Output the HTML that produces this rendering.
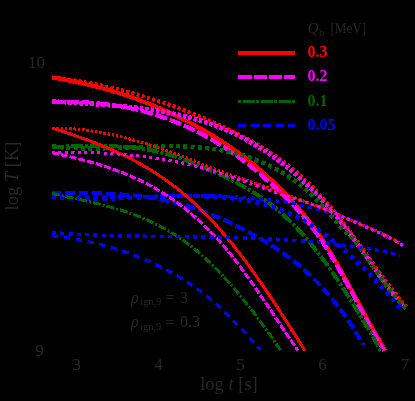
<!DOCTYPE html>
<html><head><meta charset="utf-8"><style>
html,body{margin:0;padding:0;background:#000;width:415px;height:401px;overflow:hidden}
svg{position:absolute;left:0;top:0;will-change:transform}
text{font-family:"Liberation Serif",serif;fill:#2b2727}
</style></head><body>
<svg width="415" height="401" viewBox="0 0 415 401">
<rect width="415" height="401" fill="#000"/>
<g fill="none" stroke-linecap="butt" stroke-linejoin="round" shape-rendering="crispEdges">
<path d="M52.0 77.5 L54.0 77.8 L56.0 78.2 L58.0 78.5 L60.0 78.9 L62.0 79.2 L64.0 79.6 L66.0 80.0 L68.0 80.4 L70.0 80.8 L72.0 81.2 L74.0 81.6 L76.0 82.0 L78.0 82.4 L80.0 82.8 L82.0 83.3 L84.0 83.7 L86.0 84.2 L88.0 84.7 L90.0 85.2 L92.0 85.6 L94.0 86.1 L96.0 86.6 L98.0 87.2 L100.0 87.7 L102.0 88.2 L104.0 88.8 L106.0 89.3 L108.0 89.9 L110.0 90.5 L112.0 91.0 L114.0 91.6 L116.0 92.2 L118.0 92.9 L120.0 93.5 L122.0 94.1 L124.0 94.8 L126.0 95.4 L128.0 96.1 L130.0 96.8 L132.0 97.5 L134.0 98.2 L136.0 98.9 L138.0 99.6 L140.0 100.3 L142.0 101.1 L144.0 101.9 L146.0 102.6 L148.0 103.4 L150.0 104.2 L152.0 105.0 L154.0 105.8 L156.0 106.7 L158.0 107.5 L160.0 108.4 L162.0 109.2 L164.0 110.1 L166.0 111.0 L168.0 111.9 L170.0 112.8 L172.0 113.8 L174.0 114.7 L176.0 115.7 L178.0 116.6 L180.0 117.6 L182.0 118.6 L184.0 119.6 L186.0 120.6 L188.0 121.7 L190.0 122.7 L192.0 123.8 L194.0 124.9 L196.0 126.0 L198.0 127.1 L200.0 128.2 L202.0 129.3 L204.0 130.5 L206.0 131.7 L208.0 132.8 L210.0 134.0 L212.0 135.3 L214.0 136.5 L216.0 137.7 L218.0 139.0 L220.0 140.3 L222.0 141.5 L224.0 142.8 L226.0 144.2 L228.0 145.5 L230.0 146.8 L232.0 148.2 L234.0 149.6 L236.0 151.0 L238.0 152.4 L240.0 153.9 L242.0 155.3 L244.0 156.8 L246.0 158.3 L248.0 159.9 L250.0 161.4 L252.0 163.0 L254.0 164.6 L256.0 166.3 L258.0 168.0 L260.0 169.7 L262.0 171.4 L264.0 173.2 L266.0 175.1 L268.0 176.9 L270.0 178.8 L272.0 180.7 L274.0 182.6 L276.0 184.6 L278.0 186.6 L280.0 188.6 L282.0 190.6 L284.0 192.6 L286.0 194.6 L288.0 196.7 L290.0 198.8 L292.0 201.0 L294.0 203.1 L296.0 205.4 L298.0 207.6 L300.0 209.9 L302.0 212.3 L304.0 214.7 L306.0 217.1 L308.0 219.6 L310.0 222.2 L312.0 224.8 L314.0 227.5 L316.0 230.3 L318.0 233.1 L320.0 236.1 L322.0 239.1 L324.0 242.2 L326.0 245.3 L328.0 248.5 L330.0 251.8 L332.0 255.1 L334.0 258.5 L336.0 262.0 L338.0 265.5 L340.0 269.0 L342.0 272.6 L344.0 276.2 L346.0 279.8 L348.0 283.4 L350.0 287.1 L352.0 290.8 L354.0 294.5 L356.0 298.2 L358.0 301.9 L360.0 305.6 L362.0 309.3 L364.0 313.0 L366.0 316.7 L368.0 320.3 L370.0 323.9 L372.0 327.5 L374.0 331.1 L376.0 334.6 L378.0 338.1 L380.0 341.6 L382.0 345.0 L384.0 348.3 L385.5 350.8" stroke="#ff0000" stroke-width="4.0"/>
<path d="M52.0 77.4 L54.0 77.7 L56.0 77.9 L58.0 78.1 L60.0 78.4 L62.0 78.7 L64.0 78.9 L66.0 79.2 L68.0 79.5 L70.0 79.8 L72.0 80.1 L74.0 80.4 L76.0 80.7 L78.0 81.1 L80.0 81.4 L82.0 81.7 L84.0 82.1 L86.0 82.5 L88.0 82.8 L90.0 83.2 L92.0 83.6 L94.0 84.0 L96.0 84.4 L98.0 84.8 L100.0 85.2 L102.0 85.6 L104.0 86.1 L106.0 86.5 L108.0 87.0 L110.0 87.4 L112.0 87.9 L114.0 88.4 L116.0 88.8 L118.0 89.3 L120.0 89.8 L122.0 90.3 L124.0 90.9 L126.0 91.4 L128.0 91.9 L130.0 92.4 L132.0 93.0 L134.0 93.6 L136.0 94.1 L138.0 94.7 L140.0 95.3 L142.0 95.9 L144.0 96.5 L146.0 97.1 L148.0 97.7 L150.0 98.3 L152.0 98.9 L154.0 99.6 L156.0 100.2 L158.0 100.9 L160.0 101.6 L162.0 102.2 L164.0 102.9 L166.0 103.6 L168.0 104.3 L170.0 105.0 L172.0 105.7 L174.0 106.4 L176.0 107.2 L178.0 107.9 L180.0 108.7 L182.0 109.4 L184.0 110.2 L186.0 111.0 L188.0 111.7 L190.0 112.5 L192.0 113.3 L194.0 114.2 L196.0 115.0 L198.0 115.8 L200.0 116.6 L202.0 117.5 L204.0 118.3 L206.0 119.2 L208.0 120.1 L210.0 120.9 L212.0 121.8 L214.0 122.7 L216.0 123.6 L218.0 124.5 L220.0 125.4 L222.0 126.4 L224.0 127.3 L226.0 128.3 L228.0 129.2 L230.0 130.2 L232.0 131.2 L234.0 132.1 L236.0 133.1 L238.0 134.1 L240.0 135.1 L242.0 136.2 L244.0 137.2 L246.0 138.3 L248.0 139.3 L250.0 140.4 L252.0 141.5 L254.0 142.6 L256.0 143.8 L258.0 144.9 L260.0 146.1 L262.0 147.3 L264.0 148.5 L266.0 149.8 L268.0 151.1 L270.0 152.4 L272.0 153.7 L274.0 155.0 L276.0 156.4 L278.0 157.8 L280.0 159.2 L282.0 160.7 L284.0 162.2 L286.0 163.7 L288.0 165.2 L290.0 166.8 L292.0 168.4 L294.0 170.1 L296.0 171.8 L298.0 173.5 L300.0 175.3 L302.0 177.1 L304.0 178.9 L306.0 180.8 L308.0 182.7 L310.0 184.6 L312.0 186.6 L314.0 188.7 L316.0 190.8 L318.0 192.9 L320.0 195.1 L322.0 197.3 L324.0 199.5 L326.0 201.8 L328.0 204.1 L330.0 206.4 L332.0 208.8 L334.0 211.2 L336.0 213.7 L338.0 216.2 L340.0 218.7 L342.0 221.2 L344.0 223.8 L346.0 226.4 L348.0 229.0 L350.0 231.7 L352.0 234.4 L354.0 237.1 L356.0 239.8 L358.0 242.6 L360.0 245.3 L362.0 248.1 L364.0 251.0 L366.0 253.8 L368.0 256.6 L370.0 259.5 L372.0 262.3 L374.0 265.1 L376.0 267.9 L378.0 270.7 L380.0 273.5 L382.0 276.3 L384.0 279.0 L386.0 281.8 L388.0 284.4 L390.0 287.1 L392.0 289.7 L394.0 292.2 L396.0 294.8 L398.0 297.2 L400.0 299.6 L402.0 302.0 L404.0 304.2 L406.0 306.4 L406.5 307.0" stroke="#ff0000" stroke-width="4" stroke-dasharray="3 2.4"/>
<path d="M52.0 101.9 L54.0 101.9 L56.0 101.8 L58.0 101.8 L60.0 101.7 L62.0 101.7 L64.0 101.7 L66.0 101.7 L68.0 101.7 L70.0 101.7 L72.0 101.8 L74.0 101.8 L76.0 101.9 L78.0 101.9 L80.0 102.0 L82.0 102.1 L84.0 102.2 L86.0 102.3 L88.0 102.4 L90.0 102.6 L92.0 102.7 L94.0 102.9 L96.0 103.1 L98.0 103.3 L100.0 103.5 L102.0 103.7 L104.0 103.9 L106.0 104.1 L108.0 104.4 L110.0 104.7 L112.0 105.0 L114.0 105.3 L116.0 105.6 L118.0 105.9 L120.0 106.2 L122.0 106.6 L124.0 107.0 L126.0 107.3 L128.0 107.7 L130.0 108.2 L132.0 108.6 L134.0 109.0 L136.0 109.5 L138.0 110.0 L140.0 110.5 L142.0 111.0 L144.0 111.5 L146.0 112.0 L148.0 112.6 L150.0 113.2 L152.0 113.8 L154.0 114.4 L156.0 115.0 L158.0 115.6 L160.0 116.3 L162.0 117.0 L164.0 117.7 L166.0 118.4 L168.0 119.1 L170.0 119.8 L172.0 120.6 L174.0 121.4 L176.0 122.2 L178.0 123.0 L180.0 123.8 L182.0 124.7 L184.0 125.6 L186.0 126.5 L188.0 127.4 L190.0 128.3 L192.0 129.3 L194.0 130.2 L196.0 131.2 L198.0 132.2 L200.0 133.3 L202.0 134.3 L204.0 135.4 L206.0 136.5 L208.0 137.6 L210.0 138.7 L212.0 139.9 L214.0 141.0 L216.0 142.2 L218.0 143.5 L220.0 144.7 L222.0 145.9 L224.0 147.2 L226.0 148.5 L228.0 149.8 L230.0 151.2 L232.0 152.6 L234.0 154.0 L236.0 155.4 L238.0 156.8 L240.0 158.3 L242.0 159.7 L244.0 161.2 L246.0 162.8 L248.0 164.3 L250.0 165.9 L252.0 167.5 L254.0 169.1 L256.0 170.7 L258.0 172.4 L260.0 174.1 L262.0 175.8 L264.0 177.5 L266.0 179.3 L268.0 181.1 L270.0 182.8 L272.0 184.7 L274.0 186.5 L276.0 188.4 L278.0 190.2 L280.0 192.1 L282.0 194.0 L284.0 196.0 L286.0 197.9 L288.0 199.9 L290.0 201.9 L292.0 204.0 L294.0 206.1 L296.0 208.2 L298.0 210.4 L300.0 212.6 L302.0 214.9 L304.0 217.3 L306.0 219.7 L308.0 222.1 L310.0 224.6 L312.0 227.2 L314.0 229.9 L316.0 232.6 L318.0 235.4 L320.0 238.3 L322.0 241.3 L324.0 244.3 L326.0 247.5 L328.0 250.7 L330.0 253.9 L332.0 257.3 L334.0 260.6 L336.0 264.1 L338.0 267.6 L340.0 271.1 L342.0 274.7 L344.0 278.3 L346.0 281.9 L348.0 285.6 L350.0 289.2 L352.0 292.9 L354.0 296.6 L356.0 300.4 L358.0 304.1 L360.0 307.8 L362.0 311.5 L364.0 315.2 L366.0 318.9 L368.0 322.6 L370.0 326.2 L372.0 329.8 L374.0 333.4 L376.0 337.0 L378.0 340.5 L380.0 343.9 L382.0 347.4 L384.0 350.7" stroke="#ff00ff" stroke-width="4.0" stroke-dasharray="12 3"/>
<path d="M52.0 101.2 L54.0 101.4 L56.0 101.6 L58.0 101.7 L60.0 101.9 L62.0 102.0 L64.0 102.2 L66.0 102.3 L68.0 102.4 L70.0 102.6 L72.0 102.7 L74.0 102.8 L76.0 103.0 L78.0 103.1 L80.0 103.2 L82.0 103.4 L84.0 103.5 L86.0 103.6 L88.0 103.7 L90.0 103.9 L92.0 104.0 L94.0 104.1 L96.0 104.3 L98.0 104.4 L100.0 104.5 L102.0 104.7 L104.0 104.8 L106.0 105.0 L108.0 105.1 L110.0 105.3 L112.0 105.4 L114.0 105.6 L116.0 105.8 L118.0 105.9 L120.0 106.1 L122.0 106.3 L124.0 106.5 L126.0 106.7 L128.0 106.9 L130.0 107.1 L132.0 107.3 L134.0 107.5 L136.0 107.7 L138.0 108.0 L140.0 108.2 L142.0 108.5 L144.0 108.7 L146.0 109.0 L148.0 109.3 L150.0 109.5 L152.0 109.8 L154.0 110.1 L156.0 110.4 L158.0 110.8 L160.0 111.1 L162.0 111.5 L164.0 111.8 L166.0 112.2 L168.0 112.6 L170.0 113.0 L172.0 113.4 L174.0 113.8 L176.0 114.2 L178.0 114.7 L180.0 115.1 L182.0 115.6 L184.0 116.1 L186.0 116.6 L188.0 117.1 L190.0 117.6 L192.0 118.2 L194.0 118.7 L196.0 119.3 L198.0 119.9 L200.0 120.5 L202.0 121.1 L204.0 121.8 L206.0 122.4 L208.0 123.1 L210.0 123.8 L212.0 124.5 L214.0 125.3 L216.0 126.0 L218.0 126.8 L220.0 127.6 L222.0 128.4 L224.0 129.2 L226.0 130.1 L228.0 130.9 L230.0 131.8 L232.0 132.7 L234.0 133.7 L236.0 134.6 L238.0 135.6 L240.0 136.6 L242.0 137.6 L244.0 138.7 L246.0 139.7 L248.0 140.8 L250.0 141.9 L252.0 143.1 L254.0 144.2 L256.0 145.4 L258.0 146.6 L260.0 147.9 L262.0 149.1 L264.0 150.4 L266.0 151.7 L268.0 153.1 L270.0 154.4 L272.0 155.8 L274.0 157.3 L276.0 158.7 L278.0 160.2 L280.0 161.7 L282.0 163.2 L284.0 164.8 L286.0 166.4 L288.0 168.0 L290.0 169.6 L292.0 171.3 L294.0 173.0 L296.0 174.8 L298.0 176.5 L300.0 178.3 L302.0 180.1 L304.0 182.0 L306.0 183.9 L308.0 185.8 L310.0 187.8 L312.0 189.8 L314.0 191.8 L316.0 193.8 L318.0 195.9 L320.0 198.0 L322.0 200.2 L324.0 202.4 L326.0 204.6 L328.0 206.9 L330.0 209.1 L332.0 211.5 L334.0 213.8 L336.0 216.2 L338.0 218.6 L340.0 221.1 L342.0 223.6 L344.0 226.1 L346.0 228.7 L348.0 231.3 L350.0 233.9 L352.0 236.6 L354.0 239.3 L356.0 242.1 L358.0 244.8 L360.0 247.6 L362.0 250.5 L364.0 253.3 L366.0 256.2 L368.0 259.1 L370.0 262.0 L372.0 264.9 L374.0 267.8 L376.0 270.7 L378.0 273.6 L380.0 276.4 L382.0 279.2 L384.0 282.0 L386.0 284.7 L388.0 287.4 L390.0 290.1 L392.0 292.7 L394.0 295.2 L396.0 297.7 L398.0 300.1 L400.0 302.4 L402.0 304.6 L404.0 306.7 L406.0 308.8" stroke="#ff00ff" stroke-width="4.5" stroke-dasharray="3.5 2"/>
<path d="M52.0 146.5 L54.0 146.5 L56.0 146.5 L58.0 146.5 L60.0 146.5 L62.0 146.5 L64.0 146.5 L66.0 146.4 L68.0 146.4 L70.0 146.4 L72.0 146.4 L74.0 146.3 L76.0 146.3 L78.0 146.3 L80.0 146.2 L82.0 146.2 L84.0 146.2 L86.0 146.1 L88.0 146.1 L90.0 146.1 L92.0 146.1 L94.0 146.1 L96.0 146.0 L98.0 146.0 L100.0 146.0 L102.0 146.1 L104.0 146.1 L106.0 146.1 L108.0 146.1 L110.0 146.2 L112.0 146.2 L114.0 146.3 L116.0 146.4 L118.0 146.5 L120.0 146.6 L122.0 146.7 L124.0 146.8 L126.0 146.9 L128.0 147.1 L130.0 147.3 L132.0 147.5 L134.0 147.7 L136.0 147.9 L138.0 148.1 L140.0 148.4 L142.0 148.7 L144.0 149.0 L146.0 149.3 L148.0 149.6 L150.0 150.0 L152.0 150.4 L154.0 150.8 L156.0 151.2 L158.0 151.7 L160.0 152.2 L162.0 152.7 L164.0 153.2 L166.0 153.8 L168.0 154.3 L170.0 154.9 L172.0 155.5 L174.0 156.2 L176.0 156.8 L178.0 157.5 L180.0 158.2 L182.0 158.9 L184.0 159.7 L186.0 160.4 L188.0 161.1 L190.0 161.9 L192.0 162.7 L194.0 163.5 L196.0 164.3 L198.0 165.1 L200.0 165.9 L202.0 166.7 L204.0 167.6 L206.0 168.4 L208.0 169.3 L210.0 170.1 L212.0 171.0 L214.0 171.9 L216.0 172.8 L218.0 173.7 L220.0 174.6 L222.0 175.5 L224.0 176.5 L226.0 177.4 L228.0 178.4 L230.0 179.4 L232.0 180.4 L234.0 181.4 L236.0 182.4 L238.0 183.5 L240.0 184.6 L242.0 185.7 L244.0 186.8 L246.0 187.9 L248.0 189.1 L250.0 190.3 L252.0 191.5 L254.0 192.7 L256.0 194.0 L258.0 195.3 L260.0 196.6 L262.0 198.0 L264.0 199.4 L266.0 200.8 L268.0 202.3 L270.0 203.8 L272.0 205.4 L274.0 206.9 L276.0 208.6 L278.0 210.2 L280.0 211.9 L282.0 213.7 L284.0 215.5 L286.0 217.3 L288.0 219.2 L290.0 221.1 L292.0 223.0 L294.0 225.0 L296.0 227.1 L298.0 229.2 L300.0 231.3 L302.0 233.5 L304.0 235.8 L306.0 238.0 L308.0 240.4 L310.0 242.7 L312.0 245.2 L314.0 247.6 L316.0 250.2 L318.0 252.7 L320.0 255.3 L322.0 258.0 L324.0 260.6 L326.0 263.4 L328.0 266.2 L330.0 269.0 L332.0 271.8 L334.0 274.7 L336.0 277.6 L338.0 280.6 L340.0 283.6 L342.0 286.6 L344.0 289.7 L346.0 292.8 L348.0 295.9 L350.0 299.0 L352.0 302.2 L354.0 305.4 L356.0 308.7 L358.0 311.9 L360.0 315.2 L362.0 318.5 L364.0 321.8 L366.0 325.2 L368.0 328.5 L370.0 331.9 L372.0 335.3 L374.0 338.7 L376.0 342.2 L378.0 345.6 L380.0 349.1 L381.0 350.8" stroke="#006400" stroke-width="4.0" stroke-dasharray="12 2 3 2"/>
<path d="M52.0 146.3 L54.0 146.5 L56.0 146.8 L58.0 147.0 L60.0 147.2 L62.0 147.3 L64.0 147.5 L66.0 147.6 L68.0 147.8 L70.0 147.9 L72.0 148.0 L74.0 148.1 L76.0 148.2 L78.0 148.2 L80.0 148.3 L82.0 148.3 L84.0 148.4 L86.0 148.4 L88.0 148.4 L90.0 148.4 L92.0 148.4 L94.0 148.4 L96.0 148.4 L98.0 148.4 L100.0 148.3 L102.0 148.3 L104.0 148.3 L106.0 148.2 L108.0 148.2 L110.0 148.1 L112.0 148.0 L114.0 148.0 L116.0 147.9 L118.0 147.8 L120.0 147.7 L122.0 147.7 L124.0 147.6 L126.0 147.5 L128.0 147.4 L130.0 147.3 L132.0 147.2 L134.0 147.1 L136.0 147.1 L138.0 147.0 L140.0 146.9 L142.0 146.8 L144.0 146.7 L146.0 146.7 L148.0 146.6 L150.0 146.5 L152.0 146.5 L154.0 146.4 L156.0 146.3 L158.0 146.3 L160.0 146.3 L162.0 146.2 L164.0 146.2 L166.0 146.2 L168.0 146.2 L170.0 146.2 L172.0 146.2 L174.0 146.2 L176.0 146.2 L178.0 146.2 L180.0 146.3 L182.0 146.3 L184.0 146.4 L186.0 146.5 L188.0 146.6 L190.0 146.7 L192.0 146.8 L194.0 146.9 L196.0 147.0 L198.0 147.2 L200.0 147.4 L202.0 147.6 L204.0 147.8 L206.0 148.0 L208.0 148.2 L210.0 148.5 L212.0 148.7 L214.0 149.0 L216.0 149.3 L218.0 149.6 L220.0 150.0 L222.0 150.4 L224.0 150.7 L226.0 151.1 L228.0 151.6 L230.0 152.0 L232.0 152.5 L234.0 153.0 L236.0 153.5 L238.0 154.0 L240.0 154.6 L242.0 155.1 L244.0 155.7 L246.0 156.4 L248.0 157.0 L250.0 157.7 L252.0 158.4 L254.0 159.2 L256.0 159.9 L258.0 160.7 L260.0 161.5 L262.0 162.4 L264.0 163.2 L266.0 164.1 L268.0 165.1 L270.0 166.0 L272.0 167.0 L274.0 168.1 L276.0 169.1 L278.0 170.2 L280.0 171.3 L282.0 172.5 L284.0 173.7 L286.0 174.9 L288.0 176.2 L290.0 177.5 L292.0 178.9 L294.0 180.3 L296.0 181.7 L298.0 183.2 L300.0 184.8 L302.0 186.3 L304.0 188.0 L306.0 189.7 L308.0 191.4 L310.0 193.2 L312.0 195.1 L314.0 197.0 L316.0 198.9 L318.0 201.0 L320.0 203.0 L322.0 205.2 L324.0 207.4 L326.0 209.7 L328.0 212.0 L330.0 214.3 L332.0 216.7 L334.0 219.0 L336.0 221.4 L338.0 223.6 L340.0 225.8 L342.0 228.0 L344.0 230.0 L346.0 231.9 L348.0 233.8 L350.0 235.7 L352.0 237.7 L354.0 239.8 L356.0 242.1 L358.0 244.7 L360.0 247.3 L362.0 250.2 L364.0 253.1 L366.0 256.0 L368.0 259.0 L370.0 261.9 L372.0 264.9 L374.0 267.8 L376.0 270.7 L378.0 273.6 L380.0 276.5 L382.0 279.3 L384.0 282.1 L386.0 284.8 L388.0 287.5 L390.0 290.1 L392.0 292.7 L394.0 295.1 L396.0 297.5 L398.0 299.8 L400.0 302.0 L402.0 304.1 L404.0 306.1 L406.0 308.0" stroke="#006400" stroke-width="4.5" stroke-dasharray="4 3.3"/>
<path d="M52.0 193.3 L54.0 193.3 L56.0 193.3 L58.0 193.3 L60.0 193.2 L62.0 193.2 L64.0 193.2 L66.0 193.2 L68.0 193.2 L70.0 193.1 L72.0 193.1 L74.0 193.1 L76.0 193.1 L78.0 193.1 L80.0 193.1 L82.0 193.1 L84.0 193.1 L86.0 193.1 L88.0 193.2 L90.0 193.2 L92.0 193.2 L94.0 193.2 L96.0 193.3 L98.0 193.3 L100.0 193.4 L102.0 193.4 L104.0 193.5 L106.0 193.6 L108.0 193.7 L110.0 193.7 L112.0 193.8 L114.0 193.9 L116.0 194.1 L118.0 194.2 L120.0 194.3 L122.0 194.5 L124.0 194.6 L126.0 194.8 L128.0 194.9 L130.0 195.1 L132.0 195.3 L134.0 195.5 L136.0 195.7 L138.0 196.0 L140.0 196.2 L142.0 196.5 L144.0 196.7 L146.0 197.0 L148.0 197.3 L150.0 197.6 L152.0 197.9 L154.0 198.2 L156.0 198.6 L158.0 198.9 L160.0 199.3 L162.0 199.7 L164.0 200.1 L166.0 200.5 L168.0 201.0 L170.0 201.4 L172.0 201.9 L174.0 202.4 L176.0 202.9 L178.0 203.4 L180.0 203.9 L182.0 204.5 L184.0 205.1 L186.0 205.7 L188.0 206.3 L190.0 206.9 L192.0 207.5 L194.0 208.2 L196.0 208.9 L198.0 209.5 L200.0 210.3 L202.0 211.0 L204.0 211.7 L206.0 212.5 L208.0 213.2 L210.0 214.0 L212.0 214.8 L214.0 215.6 L216.0 216.5 L218.0 217.3 L220.0 218.2 L222.0 219.1 L224.0 220.0 L226.0 220.9 L228.0 221.8 L230.0 222.7 L232.0 223.7 L234.0 224.6 L236.0 225.6 L238.0 226.6 L240.0 227.6 L242.0 228.6 L244.0 229.7 L246.0 230.7 L248.0 231.8 L250.0 232.9 L252.0 234.0 L254.0 235.1 L256.0 236.2 L258.0 237.3 L260.0 238.4 L262.0 239.6 L264.0 240.8 L266.0 242.0 L268.0 243.2 L270.0 244.4 L272.0 245.7 L274.0 247.0 L276.0 248.3 L278.0 249.6 L280.0 250.9 L282.0 252.3 L284.0 253.7 L286.0 255.2 L288.0 256.6 L290.0 258.1 L292.0 259.6 L294.0 261.2 L296.0 262.8 L298.0 264.4 L300.0 266.1 L302.0 267.8 L304.0 269.6 L306.0 271.3 L308.0 273.2 L310.0 275.0 L312.0 277.0 L314.0 278.9 L316.0 280.9 L318.0 283.0 L320.0 285.1 L322.0 287.2 L324.0 289.4 L326.0 291.7 L328.0 294.0 L330.0 296.3 L332.0 298.8 L334.0 301.2 L336.0 303.7 L338.0 306.3 L340.0 309.0 L342.0 311.7 L344.0 314.4 L346.0 317.3 L348.0 320.2 L350.0 323.1 L352.0 326.1 L354.0 329.2 L356.0 332.4 L358.0 335.6 L360.0 338.9 L362.0 342.3 L363.7 345.2" stroke="#0000ff" stroke-width="4.0" stroke-dasharray="9.5 4"/>
<path d="M52.0 196.9 L54.0 197.1 L56.0 197.3 L58.0 197.5 L60.0 197.6 L62.0 197.8 L64.0 197.9 L66.0 198.0 L68.0 198.1 L70.0 198.2 L72.0 198.3 L74.0 198.4 L76.0 198.5 L78.0 198.5 L80.0 198.6 L82.0 198.6 L84.0 198.7 L86.0 198.7 L88.0 198.7 L90.0 198.7 L92.0 198.7 L94.0 198.7 L96.0 198.7 L98.0 198.7 L100.0 198.7 L102.0 198.6 L104.0 198.6 L106.0 198.6 L108.0 198.5 L110.0 198.5 L112.0 198.4 L114.0 198.3 L116.0 198.3 L118.0 198.2 L120.0 198.1 L122.0 198.1 L124.0 198.0 L126.0 197.9 L128.0 197.8 L130.0 197.8 L132.0 197.7 L134.0 197.6 L136.0 197.5 L138.0 197.4 L140.0 197.4 L142.0 197.3 L144.0 197.2 L146.0 197.1 L148.0 197.0 L150.0 196.9 L152.0 196.9 L154.0 196.8 L156.0 196.7 L158.0 196.6 L160.0 196.6 L162.0 196.5 L164.0 196.4 L166.0 196.4 L168.0 196.3 L170.0 196.3 L172.0 196.2 L174.0 196.2 L176.0 196.1 L178.0 196.1 L180.0 196.1 L182.0 196.0 L184.0 196.0 L186.0 196.0 L188.0 196.0 L190.0 196.0 L192.0 196.0 L194.0 196.0 L196.0 196.1 L198.0 196.1 L200.0 196.1 L202.0 196.2 L204.0 196.3 L206.0 196.3 L208.0 196.4 L210.0 196.5 L212.0 196.6 L214.0 196.7 L216.0 196.8 L218.0 197.0 L220.0 197.1 L222.0 197.3 L224.0 197.4 L226.0 197.6 L228.0 197.8 L230.0 198.0 L232.0 198.2 L234.0 198.5 L236.0 198.7 L238.0 199.0 L240.0 199.3 L242.0 199.5 L244.0 199.9 L246.0 200.2 L248.0 200.5 L250.0 200.9 L252.0 201.3 L254.0 201.7 L256.0 202.1 L258.0 202.6 L260.0 203.1 L262.0 203.6 L264.0 204.1 L266.0 204.6 L268.0 205.2 L270.0 205.8 L272.0 206.4 L274.0 207.1 L276.0 207.8 L278.0 208.5 L280.0 209.2 L282.0 210.0 L284.0 210.8 L286.0 211.7 L288.0 212.5 L290.0 213.4 L292.0 214.4 L294.0 215.3 L296.0 216.3 L298.0 217.4 L300.0 218.5 L302.0 219.6 L304.0 220.7 L306.0 221.9 L308.0 223.1 L310.0 224.3 L312.0 225.6 L314.0 226.9 L316.0 228.2 L318.0 229.6 L320.0 231.0 L322.0 232.4 L324.0 233.8 L326.0 235.3 L328.0 236.8 L330.0 238.4 L332.0 240.0 L334.0 241.6 L336.0 243.2 L338.0 244.9 L340.0 246.6 L342.0 248.3 L344.0 250.0 L346.0 251.8 L348.0 253.6 L350.0 255.4 L352.0 257.2 L354.0 259.1 L356.0 261.0 L358.0 262.9 L360.0 264.8 L362.0 266.8 L364.0 268.8 L366.0 270.8 L368.0 272.8 L370.0 274.8 L372.0 276.9 L374.0 278.9 L376.0 281.0 L378.0 283.1 L380.0 285.2 L382.0 287.4 L384.0 289.5 L386.0 291.7 L388.0 293.8 L390.0 296.0 L392.0 298.2 L394.0 300.4 L396.0 302.7 L398.0 304.9 L400.0 307.1 L402.0 309.4 L403.0 310.5" stroke="#0000ff" stroke-width="4.5" stroke-dasharray="4 4.5"/>
<path d="M52.0 196.4 L54.0 196.5 L56.0 196.6 L58.0 196.7 L60.0 196.7 L62.0 196.8 L64.0 196.9 L66.0 196.9 L68.0 197.0 L70.0 197.0 L72.0 197.1 L74.0 197.1 L76.0 197.2 L78.0 197.2 L80.0 197.2 L82.0 197.2 L84.0 197.3 L86.0 197.3 L88.0 197.3 L90.0 197.3 L92.0 197.3 L94.0 197.3 L96.0 197.3 L98.0 197.3 L100.0 197.3 L102.0 197.2 L104.0 197.2 L106.0 197.2 L108.0 197.2 L110.0 197.2 L112.0 197.1 L114.0 197.1 L116.0 197.1 L118.0 197.0 L120.0 197.0 L122.0 197.0 L124.0 196.9 L126.0 196.9 L128.0 196.8 L130.0 196.8 L132.0 196.7 L134.0 196.7 L136.0 196.7 L138.0 196.6 L140.0 196.6 L142.0 196.5 L144.0 196.5 L146.0 196.4 L148.0 196.4 L150.0 196.3 L152.0 196.3 L154.0 196.3 L156.0 196.2 L158.0 196.2 L160.0 196.1 L162.0 196.1 L164.0 196.1 L166.0 196.0 L168.0 196.0 L170.0 196.0 L172.0 195.9 L174.0 195.9 L176.0 195.9 L178.0 195.8 L180.0 195.8 L182.0 195.8 L184.0 195.8 L186.0 195.8 L188.0 195.8 L190.0 195.8 L192.0 195.8 L194.0 195.8 L196.0 195.8 L198.0 195.8 L200.0 195.8 L202.0 195.8 L204.0 195.9 L206.0 195.9 L208.0 195.9 L210.0 196.0 L212.0 196.0 L214.0 196.0 L216.0 196.1 L218.0 196.2 L220.0 196.2 L222.0 196.3 L224.0 196.4 L226.0 196.4 L228.0 196.5 L230.0 196.6 L232.0 196.7 L234.0 196.8 L236.0 196.9 L238.0 197.1 L240.0 197.2 L242.0 197.3 L244.0 197.5 L246.0 197.6 L248.0 197.8 L250.0 197.9 L252.0 198.1 L254.0 198.3 L256.0 198.5 L258.0 198.7 L260.0 198.9 L262.0 199.1 L264.0 199.3 L266.0 199.6 L268.0 199.8 L270.0 200.1 L272.0 200.3 L274.0 200.6 L276.0 200.9 L278.0 201.2 L280.0 201.5 L282.0 201.8 L284.0 202.1 L286.0 202.4 L288.0 202.7 L290.0 203.1 L292.0 203.5 L294.0 203.8 L296.0 204.2 L298.0 204.6 L300.0 205.0 L302.0 205.4 L304.0 205.9 L306.0 206.3 L308.0 206.8 L310.0 207.2 L312.0 207.7 L314.0 208.2 L316.0 208.7 L318.0 209.2 L320.0 209.7 L322.0 210.3 L324.0 210.8 L326.0 211.4 L328.0 212.0 L330.0 212.6 L332.0 213.2 L334.0 213.8 L336.0 214.4 L338.0 215.1 L340.0 215.8 L342.0 216.4 L344.0 217.1 L346.0 217.8 L348.0 218.6 L350.0 219.3 L352.0 220.1 L354.0 220.8 L356.0 221.6 L358.0 222.4 L360.0 223.2 L362.0 224.1 L364.0 224.9 L366.0 225.8 L368.0 226.6 L370.0 227.5 L372.0 228.5 L374.0 229.4 L376.0 230.3 L378.0 231.3 L380.0 232.3 L382.0 233.3 L384.0 234.3 L386.0 235.3 L388.0 236.4 L390.0 237.4 L392.0 238.5 L394.0 239.6 L396.0 240.8 L398.0 241.9 L400.0 243.1 L402.0 244.2 L404.0 245.4" stroke="#0000ff" stroke-width="3.5" stroke-dasharray="3.5 4.8"/>
<path d="M52.0 128.0 L54.0 128.7 L56.0 129.3 L58.0 130.0 L60.0 130.6 L62.0 131.3 L64.0 131.9 L66.0 132.6 L68.0 133.3 L70.0 133.9 L72.0 134.6 L74.0 135.3 L76.0 136.0 L78.0 136.7 L80.0 137.4 L82.0 138.1 L84.0 138.8 L86.0 139.5 L88.0 140.3 L90.0 141.0 L92.0 141.8 L94.0 142.5 L96.0 143.3 L98.0 144.1 L100.0 144.9 L102.0 145.7 L104.0 146.5 L106.0 147.3 L108.0 148.2 L110.0 149.0 L112.0 149.9 L114.0 150.8 L116.0 151.7 L118.0 152.6 L120.0 153.5 L122.0 154.5 L124.0 155.4 L126.0 156.4 L128.0 157.4 L130.0 158.4 L132.0 159.5 L134.0 160.5 L136.0 161.6 L138.0 162.7 L140.0 163.8 L142.0 164.9 L144.0 166.1 L146.0 167.2 L148.0 168.4 L150.0 169.6 L152.0 170.9 L154.0 172.1 L156.0 173.4 L158.0 174.7 L160.0 176.1 L162.0 177.4 L164.0 178.8 L166.0 180.2 L168.0 181.6 L170.0 183.1 L172.0 184.6 L174.0 186.1 L176.0 187.6 L178.0 189.2 L180.0 190.8 L182.0 192.4 L184.0 194.1 L186.0 195.8 L188.0 197.5 L190.0 199.3 L192.0 201.0 L194.0 202.8 L196.0 204.7 L198.0 206.6 L200.0 208.5 L202.0 210.4 L204.0 212.4 L206.0 214.4 L208.0 216.4 L210.0 218.5 L212.0 220.6 L214.0 222.8 L216.0 225.0 L218.0 227.2 L220.0 229.5 L222.0 231.8 L224.0 234.1 L226.0 236.4 L228.0 238.8 L230.0 241.3 L232.0 243.7 L234.0 246.2 L236.0 248.8 L238.0 251.3 L240.0 253.9 L242.0 256.5 L244.0 259.2 L246.0 261.9 L248.0 264.6 L250.0 267.3 L252.0 270.1 L254.0 272.9 L256.0 275.7 L258.0 278.6 L260.0 281.5 L262.0 284.4 L264.0 287.3 L266.0 290.2 L268.0 293.2 L270.0 296.2 L272.0 299.2 L274.0 302.2 L276.0 305.3 L278.0 308.3 L280.0 311.4 L282.0 314.5 L284.0 317.6 L286.0 320.7 L288.0 323.8 L290.0 327.0 L292.0 330.1 L294.0 333.3 L296.0 336.4 L298.0 339.6 L300.0 342.8 L302.0 346.0 L304.0 349.2 L305.0 350.8" stroke="#ff0000" stroke-width="3.0"/>
<path d="M52.0 128.1 L54.0 128.1 L56.0 128.1 L58.0 128.1 L60.0 128.2 L62.0 128.2 L64.0 128.3 L66.0 128.4 L68.0 128.5 L70.0 128.6 L72.0 128.8 L74.0 128.9 L76.0 129.1 L78.0 129.3 L80.0 129.5 L82.0 129.7 L84.0 129.9 L86.0 130.2 L88.0 130.5 L90.0 130.7 L92.0 131.0 L94.0 131.3 L96.0 131.7 L98.0 132.0 L100.0 132.3 L102.0 132.7 L104.0 133.1 L106.0 133.5 L108.0 133.9 L110.0 134.3 L112.0 134.7 L114.0 135.1 L116.0 135.6 L118.0 136.1 L120.0 136.5 L122.0 137.0 L124.0 137.5 L126.0 138.0 L128.0 138.6 L130.0 139.1 L132.0 139.6 L134.0 140.2 L136.0 140.8 L138.0 141.3 L140.0 141.9 L142.0 142.5 L144.0 143.1 L146.0 143.7 L148.0 144.4 L150.0 145.0 L152.0 145.6 L154.0 146.3 L156.0 146.9 L158.0 147.6 L160.0 148.3 L162.0 149.0 L164.0 149.6 L166.0 150.3 L168.0 151.0 L170.0 151.8 L172.0 152.5 L174.0 153.2 L176.0 153.9 L178.0 154.7 L180.0 155.4 L182.0 156.2 L184.0 156.9 L186.0 157.7 L188.0 158.5 L190.0 159.2 L192.0 160.0 L194.0 160.8 L196.0 161.6 L198.0 162.4 L200.0 163.2 L202.0 164.0 L204.0 164.8 L206.0 165.6 L208.0 166.4 L210.0 167.2 L212.0 168.0 L214.0 168.8 L216.0 169.6 L218.0 170.4 L220.0 171.1 L222.0 171.9 L224.0 172.7 L226.0 173.4 L228.0 174.1 L230.0 174.8 L232.0 175.6 L234.0 176.2 L236.0 176.9 L238.0 177.6 L240.0 178.2 L242.0 178.9 L244.0 179.5 L246.0 180.2 L248.0 180.8 L250.0 181.5 L252.0 182.1 L254.0 182.8 L256.0 183.5 L258.0 184.1 L260.0 184.8 L262.0 185.5 L264.0 186.2 L266.0 187.0 L268.0 187.7 L270.0 188.4 L272.0 189.2 L274.0 189.9 L276.0 190.7 L278.0 191.4 L280.0 192.2 L282.0 193.0 L284.0 193.7 L286.0 194.5 L288.0 195.2 L290.0 196.0 L292.0 196.7 L294.0 197.5 L296.0 198.2 L298.0 198.9 L300.0 199.6 L302.0 200.4 L304.0 201.1 L306.0 201.8 L308.0 202.6 L310.0 203.3 L312.0 204.0 L314.0 204.8 L316.0 205.5 L318.0 206.3 L320.0 207.1 L322.0 207.8 L324.0 208.6 L326.0 209.4 L328.0 210.3 L330.0 211.1 L332.0 211.9 L334.0 212.7 L336.0 213.6 L338.0 214.4 L340.0 215.3 L342.0 216.1 L344.0 217.0 L346.0 217.9 L348.0 218.7 L350.0 219.6 L352.0 220.5 L354.0 221.3 L356.0 222.2 L358.0 223.0 L360.0 223.9 L362.0 224.8 L364.0 225.6 L366.0 226.5 L368.0 227.3 L370.0 228.2 L372.0 229.1 L374.0 229.9 L376.0 230.8 L378.0 231.8 L380.0 232.7 L382.0 233.6 L384.0 234.6 L386.0 235.6 L388.0 236.6 L390.0 237.7 L392.0 238.7 L394.0 239.9 L396.0 241.0 L398.0 242.2 L400.0 243.4 L402.0 244.7 L404.0 246.0" stroke="#ff0000" stroke-width="3.0" stroke-dasharray="2.5 1.8"/>
<path d="M52.0 152.6 L54.0 153.1 L56.0 153.5 L58.0 154.0 L60.0 154.4 L62.0 154.9 L64.0 155.3 L66.0 155.8 L68.0 156.3 L70.0 156.8 L72.0 157.2 L74.0 157.7 L76.0 158.2 L78.0 158.7 L80.0 159.2 L82.0 159.7 L84.0 160.3 L86.0 160.8 L88.0 161.3 L90.0 161.9 L92.0 162.5 L94.0 163.0 L96.0 163.6 L98.0 164.2 L100.0 164.8 L102.0 165.5 L104.0 166.1 L106.0 166.7 L108.0 167.4 L110.0 168.1 L112.0 168.8 L114.0 169.5 L116.0 170.2 L118.0 171.0 L120.0 171.7 L122.0 172.5 L124.0 173.3 L126.0 174.1 L128.0 174.9 L130.0 175.8 L132.0 176.7 L134.0 177.5 L136.0 178.5 L138.0 179.4 L140.0 180.3 L142.0 181.3 L144.0 182.3 L146.0 183.4 L148.0 184.4 L150.0 185.5 L152.0 186.6 L154.0 187.7 L156.0 188.8 L158.0 190.0 L160.0 191.2 L162.0 192.4 L164.0 193.7 L166.0 195.0 L168.0 196.3 L170.0 197.6 L172.0 199.0 L174.0 200.4 L176.0 201.8 L178.0 203.3 L180.0 204.8 L182.0 206.3 L184.0 207.9 L186.0 209.4 L188.0 211.1 L190.0 212.7 L192.0 214.4 L194.0 216.1 L196.0 217.9 L198.0 219.7 L200.0 221.5 L202.0 223.4 L204.0 225.3 L206.0 227.2 L208.0 229.2 L210.0 231.2 L212.0 233.3 L214.0 235.4 L216.0 237.5 L218.0 239.7 L220.0 241.9 L222.0 244.2 L224.0 246.5 L226.0 248.8 L228.0 251.2 L230.0 253.7 L232.0 256.1 L234.0 258.6 L236.0 261.2 L238.0 263.8 L240.0 266.5 L242.0 269.1 L244.0 271.8 L246.0 274.6 L248.0 277.4 L250.0 280.2 L252.0 283.0 L254.0 285.9 L256.0 288.8 L258.0 291.7 L260.0 294.6 L262.0 297.5 L264.0 300.5 L266.0 303.4 L268.0 306.4 L270.0 309.4 L272.0 312.4 L274.0 315.4 L276.0 318.4 L278.0 321.3 L280.0 324.3 L282.0 327.3 L284.0 330.3 L286.0 333.2 L288.0 336.2 L290.0 339.1 L292.0 342.0 L294.0 344.9 L296.0 347.8 L298.0 350.7" stroke="#ff00ff" stroke-width="3.0" stroke-dasharray="7 2"/>
<path d="M52.0 152.6 L54.0 152.6 L56.0 152.5 L58.0 152.5 L60.0 152.5 L62.0 152.5 L64.0 152.5 L66.0 152.4 L68.0 152.4 L70.0 152.4 L72.0 152.4 L74.0 152.4 L76.0 152.5 L78.0 152.5 L80.0 152.5 L82.0 152.5 L84.0 152.6 L86.0 152.6 L88.0 152.6 L90.0 152.7 L92.0 152.7 L94.0 152.8 L96.0 152.9 L98.0 152.9 L100.0 153.0 L102.0 153.1 L104.0 153.2 L106.0 153.3 L108.0 153.4 L110.0 153.5 L112.0 153.6 L114.0 153.7 L116.0 153.9 L118.0 154.0 L120.0 154.2 L122.0 154.3 L124.0 154.5 L126.0 154.6 L128.0 154.8 L130.0 155.0 L132.0 155.2 L134.0 155.4 L136.0 155.6 L138.0 155.8 L140.0 156.0 L142.0 156.3 L144.0 156.5 L146.0 156.8 L148.0 157.0 L150.0 157.3 L152.0 157.6 L154.0 157.9 L156.0 158.2 L158.0 158.5 L160.0 158.8 L162.0 159.1 L164.0 159.4 L166.0 159.8 L168.0 160.1 L170.0 160.5 L172.0 160.9 L174.0 161.3 L176.0 161.7 L178.0 162.1 L180.0 162.5 L182.0 162.9 L184.0 163.4 L186.0 163.8 L188.0 164.3 L190.0 164.7 L192.0 165.2 L194.0 165.7 L196.0 166.2 L198.0 166.7 L200.0 167.3 L202.0 167.8 L204.0 168.4 L206.0 168.9 L208.0 169.5 L210.0 170.1 L212.0 170.7 L214.0 171.3 L216.0 171.9 L218.0 172.5 L220.0 173.2 L222.0 173.8 L224.0 174.4 L226.0 175.1 L228.0 175.7 L230.0 176.4 L232.0 177.1 L234.0 177.8 L236.0 178.4 L238.0 179.1 L240.0 179.8 L242.0 180.5 L244.0 181.2 L246.0 181.9 L248.0 182.6 L250.0 183.3 L252.0 184.0 L254.0 184.7 L256.0 185.4 L258.0 186.1 L260.0 186.8 L262.0 187.5 L264.0 188.3 L266.0 189.0 L268.0 189.7 L270.0 190.4 L272.0 191.1 L274.0 191.8 L276.0 192.4 L278.0 193.1 L280.0 193.8 L282.0 194.5 L284.0 195.2 L286.0 195.8 L288.0 196.5 L290.0 197.1 L292.0 197.8 L294.0 198.4 L296.0 199.1 L298.0 199.7 L300.0 200.4 L302.0 201.0 L304.0 201.7 L306.0 202.3 L308.0 203.0 L310.0 203.6 L312.0 204.3 L314.0 205.0 L316.0 205.7 L318.0 206.5 L320.0 207.2 L322.0 208.0 L324.0 208.8 L326.0 209.6 L328.0 210.4 L330.0 211.2 L332.0 212.1 L334.0 213.0 L336.0 213.8 L338.0 214.7 L340.0 215.6 L342.0 216.5 L344.0 217.4 L346.0 218.3 L348.0 219.2 L350.0 220.1 L352.0 221.0 L354.0 221.9 L356.0 222.8 L358.0 223.7 L360.0 224.5 L362.0 225.4 L364.0 226.3 L366.0 227.1 L368.0 228.0 L370.0 228.8 L372.0 229.7 L374.0 230.6 L376.0 231.5 L378.0 232.3 L380.0 233.3 L382.0 234.2 L384.0 235.1 L386.0 236.1 L388.0 237.1 L390.0 238.2 L392.0 239.2 L394.0 240.3 L396.0 241.5 L398.0 242.7 L400.0 243.9 L402.0 245.2 L404.0 246.5" stroke="#ff00ff" stroke-width="3.0" stroke-dasharray="3 3.5"/>
<path d="M52.0 193.4 L54.0 193.9 L56.0 194.4 L58.0 194.8 L60.0 195.3 L62.0 195.7 L64.0 196.2 L66.0 196.6 L68.0 197.1 L70.0 197.5 L72.0 197.9 L74.0 198.4 L76.0 198.8 L78.0 199.2 L80.0 199.7 L82.0 200.1 L84.0 200.6 L86.0 201.0 L88.0 201.5 L90.0 201.9 L92.0 202.4 L94.0 202.9 L96.0 203.4 L98.0 203.8 L100.0 204.3 L102.0 204.8 L104.0 205.4 L106.0 205.9 L108.0 206.4 L110.0 207.0 L112.0 207.5 L114.0 208.1 L116.0 208.7 L118.0 209.3 L120.0 209.9 L122.0 210.5 L124.0 211.1 L126.0 211.8 L128.0 212.5 L130.0 213.2 L132.0 213.9 L134.0 214.6 L136.0 215.3 L138.0 216.1 L140.0 216.9 L142.0 217.7 L144.0 218.6 L146.0 219.4 L148.0 220.3 L150.0 221.2 L152.0 222.1 L154.0 223.1 L156.0 224.1 L158.0 225.1 L160.0 226.1 L162.0 227.2 L164.0 228.3 L166.0 229.4 L168.0 230.6 L170.0 231.7 L172.0 233.0 L174.0 234.2 L176.0 235.5 L178.0 236.8 L180.0 238.1 L182.0 239.5 L184.0 240.9 L186.0 242.4 L188.0 243.9 L190.0 245.4 L192.0 247.0 L194.0 248.6 L196.0 250.2 L198.0 251.9 L200.0 253.6 L202.0 255.4 L204.0 257.2 L206.0 259.0 L208.0 260.9 L210.0 262.8 L212.0 264.7 L214.0 266.7 L216.0 268.7 L218.0 270.7 L220.0 272.8 L222.0 274.9 L224.0 277.0 L226.0 279.2 L228.0 281.4 L230.0 283.7 L232.0 285.9 L234.0 288.2 L236.0 290.6 L238.0 293.0 L240.0 295.4 L242.0 297.8 L244.0 300.3 L246.0 302.8 L248.0 305.3 L250.0 307.8 L252.0 310.4 L254.0 313.0 L256.0 315.7 L258.0 318.3 L260.0 321.0 L262.0 323.8 L264.0 326.5 L266.0 329.3 L268.0 332.1 L270.0 334.9 L272.0 337.8 L274.0 340.7 L276.0 343.6 L278.0 346.5 L280.0 349.5 L280.8 350.7" stroke="#006400" stroke-width="3" stroke-dasharray="8 2 2 2"/>
<path d="M52.0 235.8 L54.0 236.0 L56.0 236.3 L58.0 236.5 L60.0 236.8 L62.0 237.1 L64.0 237.3 L66.0 237.6 L68.0 237.9 L70.0 238.2 L72.0 238.6 L74.0 238.9 L76.0 239.2 L78.0 239.6 L80.0 240.0 L82.0 240.3 L84.0 240.7 L86.0 241.1 L88.0 241.6 L90.0 242.0 L92.0 242.4 L94.0 242.9 L96.0 243.4 L98.0 243.9 L100.0 244.3 L102.0 244.9 L104.0 245.4 L106.0 245.9 L108.0 246.5 L110.0 247.1 L112.0 247.6 L114.0 248.2 L116.0 248.8 L118.0 249.5 L120.0 250.1 L122.0 250.8 L124.0 251.5 L126.0 252.1 L128.0 252.9 L130.0 253.6 L132.0 254.3 L134.0 255.1 L136.0 255.9 L138.0 256.7 L140.0 257.5 L142.0 258.3 L144.0 259.1 L146.0 260.0 L148.0 260.9 L150.0 261.8 L152.0 262.7 L154.0 263.6 L156.0 264.6 L158.0 265.6 L160.0 266.6 L162.0 267.6 L164.0 268.6 L166.0 269.6 L168.0 270.7 L170.0 271.8 L172.0 272.9 L174.0 274.1 L176.0 275.2 L178.0 276.4 L180.0 277.6 L182.0 278.8 L184.0 280.0 L186.0 281.3 L188.0 282.6 L190.0 283.9 L192.0 285.2 L194.0 286.6 L196.0 288.0 L198.0 289.4 L200.0 290.9 L202.0 292.4 L204.0 294.0 L206.0 295.5 L208.0 297.1 L210.0 298.8 L212.0 300.5 L214.0 302.2 L216.0 303.9 L218.0 305.7 L220.0 307.6 L222.0 309.4 L224.0 311.3 L226.0 313.2 L228.0 315.2 L230.0 317.1 L232.0 319.2 L234.0 321.2 L236.0 323.3 L238.0 325.3 L240.0 327.4 L242.0 329.6 L244.0 331.7 L246.0 333.9 L248.0 336.1 L250.0 338.3 L252.0 340.5 L254.0 342.7 L256.0 345.0 L258.0 347.2 L260.0 349.5 L260.7 350.3" stroke="#0000ff" stroke-width="3.0" stroke-dasharray="6.5 5.5"/>
<path d="M52.0 232.7 L54.0 232.8 L56.0 233.0 L58.0 233.1 L60.0 233.2 L62.0 233.4 L64.0 233.5 L66.0 233.6 L68.0 233.7 L70.0 233.9 L72.0 234.0 L74.0 234.1 L76.0 234.2 L78.0 234.3 L80.0 234.4 L82.0 234.5 L84.0 234.6 L86.0 234.7 L88.0 234.7 L90.0 234.8 L92.0 234.9 L94.0 235.0 L96.0 235.1 L98.0 235.1 L100.0 235.2 L102.0 235.3 L104.0 235.3 L106.0 235.4 L108.0 235.5 L110.0 235.5 L112.0 235.6 L114.0 235.6 L116.0 235.7 L118.0 235.7 L120.0 235.8 L122.0 235.8 L124.0 235.9 L126.0 235.9 L128.0 236.0 L130.0 236.0 L132.0 236.0 L134.0 236.1 L136.0 236.1 L138.0 236.1 L140.0 236.2 L142.0 236.2 L144.0 236.2 L146.0 236.3 L148.0 236.3 L150.0 236.3 L152.0 236.3 L154.0 236.4 L156.0 236.4 L158.0 236.4 L160.0 236.4 L162.0 236.5 L164.0 236.5 L166.0 236.5 L168.0 236.5 L170.0 236.6 L172.0 236.6 L174.0 236.6 L176.0 236.6 L178.0 236.7 L180.0 236.7 L182.0 236.7 L184.0 236.7 L186.0 236.7 L188.0 236.8 L190.0 236.8 L192.0 236.8 L194.0 236.8 L196.0 236.9 L198.0 236.9 L200.0 236.9 L202.0 237.0 L204.0 237.0 L206.0 237.0 L208.0 237.0 L210.0 237.1 L212.0 237.1 L214.0 237.1 L216.0 237.2 L218.0 237.2 L220.0 237.3 L222.0 237.3 L224.0 237.3 L226.0 237.4 L228.0 237.4 L230.0 237.5 L232.0 237.5 L234.0 237.6 L236.0 237.6 L238.0 237.7 L240.0 237.7 L242.0 237.8 L244.0 237.9 L246.0 237.9 L248.0 238.0 L250.0 238.0 L252.0 238.1 L254.0 238.2 L256.0 238.3 L258.0 238.3 L260.0 238.4 L262.0 238.5 L264.0 238.6 L266.0 238.7 L268.0 238.8 L270.0 238.9 L272.0 239.0 L274.0 239.1 L276.0 239.2 L278.0 239.3 L280.0 239.4 L282.0 239.5 L284.0 239.6 L286.0 239.8 L288.0 239.9 L290.0 240.0 L292.0 240.2 L294.0 240.3 L296.0 240.4 L298.0 240.6 L300.0 240.7 L302.0 240.9 L304.0 241.0 L306.0 241.2 L308.0 241.4 L310.0 241.6 L312.0 241.7 L314.0 241.9 L316.0 242.1 L318.0 242.3 L320.0 242.5 L322.0 242.7 L324.0 242.9 L326.0 243.1 L328.0 243.3 L330.0 243.5 L332.0 243.8 L334.0 244.0 L336.0 244.2 L338.0 244.5 L340.0 244.7 L342.0 245.0 L344.0 245.2 L346.0 245.5 L348.0 245.7 L350.0 246.0 L352.0 246.3 L354.0 246.6 L356.0 246.9 L358.0 247.2 L360.0 247.5 L362.0 247.8 L364.0 248.1 L366.0 248.4 L368.0 248.8 L370.0 249.1 L372.0 249.4 L374.0 249.8 L376.0 250.1 L378.0 250.5 L380.0 250.9 L382.0 251.2 L384.0 251.6 L386.0 252.0 L388.0 252.4 L390.0 252.8 L392.0 253.2 L394.0 253.6 L396.0 254.1 L398.0 254.5 L400.0 254.9" stroke="#0000ff" stroke-width="3.5" stroke-dasharray="4 4.3"/>
</g>
<g shape-rendering="crispEdges">
<line x1="238" y1="53" x2="295" y2="53" stroke="#ff0000" stroke-width="4"/>
<line x1="238" y1="77" x2="295" y2="77" stroke="#ff00ff" stroke-width="4" stroke-dasharray="14 2 13.1 2 13.1 2 13.1"/>
<line x1="238" y1="101.5" x2="295" y2="101.5" stroke="#006400" stroke-width="2.7" stroke-dasharray="3 2 11.8 1.2"/>
<line x1="238" y1="125.4" x2="295" y2="125.4" stroke="#0000ff" stroke-width="3" stroke-dasharray="8 5 8 4 8 5 8 4 8"/>
</g>
<g font-size="17">
<text x="36.5" y="68" text-anchor="middle">10</text>
<text x="39.5" y="355.5" text-anchor="middle">9</text>
<text x="76.5" y="370" text-anchor="middle">3</text>
<text x="158.5" y="370" text-anchor="middle">4</text>
<text x="240.5" y="370" text-anchor="middle">5</text>
<text x="322.5" y="370" text-anchor="middle">6</text>
<text x="405" y="370" text-anchor="middle">7</text>
</g>
<text x="229" y="389.5" font-size="18.5" text-anchor="middle">log <tspan font-style="italic">t</tspan> [s]</text>
<text transform="translate(17.8,176) rotate(-90)" font-size="18.5" text-anchor="middle">log <tspan font-style="italic">T</tspan> [K]</text>
<text x="307.5" y="33" font-size="15.5" font-style="italic">Q</text><text x="319" y="35.5" font-size="10.5">b</text><text x="330.5" y="33" font-size="15.5" textLength="35.5" lengthAdjust="spacingAndGlyphs">[MeV]</text>
<g font-size="17.5" font-weight="bold" lengthAdjust="spacingAndGlyphs">
<text x="307.5" y="57" textLength="20" lengthAdjust="spacingAndGlyphs" style="fill:#ff0000">0.3</text>
<text x="307.5" y="81" textLength="20" lengthAdjust="spacingAndGlyphs" style="fill:#ff00ff">0.2</text>
<text x="307.5" y="105.5" textLength="20" lengthAdjust="spacingAndGlyphs" style="fill:#006400">0.1</text>
<text x="307.5" y="129.5" textLength="28" lengthAdjust="spacingAndGlyphs" style="fill:#0000ff">0.05</text>
</g>
<g font-size="16">
<text x="131" y="302.5" font-style="italic">ρ</text><text x="140" y="305" font-size="10.5">ign,9</text><text x="165.5" y="303">=</text><text x="180" y="302.8">3</text>
<text x="131" y="327" font-style="italic">ρ</text><text x="140" y="329.5" font-size="10.5">ign,9</text><text x="165.5" y="327.5">=</text><text x="180" y="327.3">0.3</text>
</g>
</svg>
</body></html>
